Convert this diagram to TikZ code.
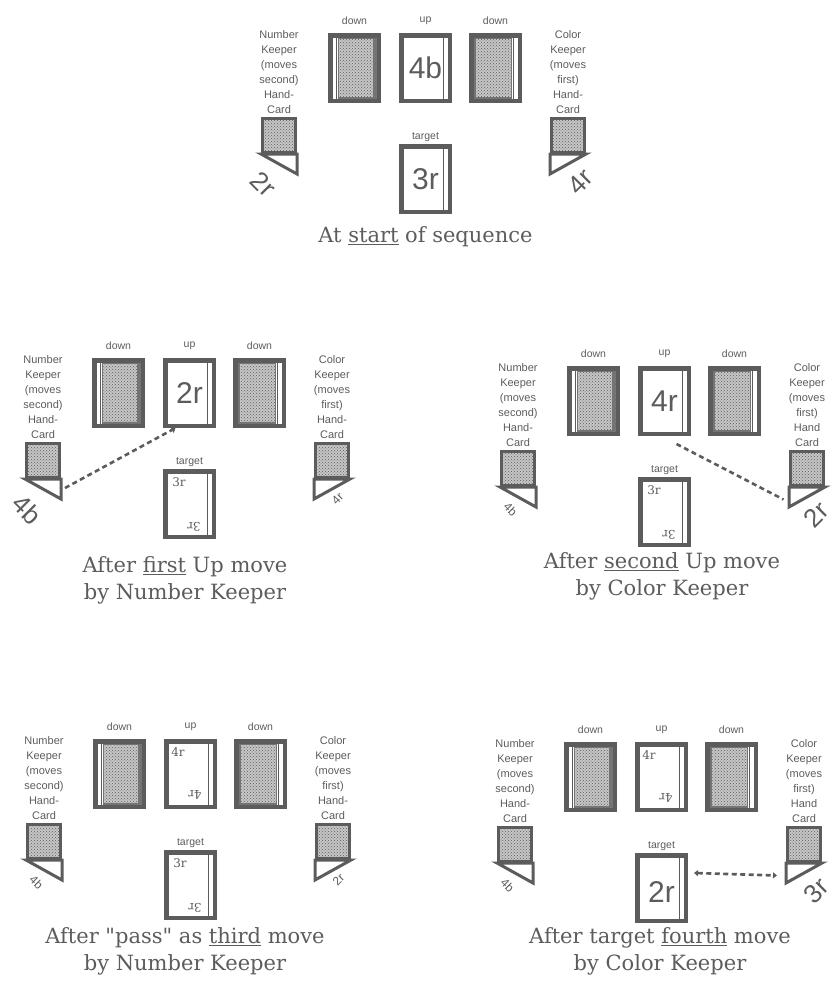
\documentclass[tikz,border=0pt]{standalone}
\usepackage{fontspec}
\setmainfont{DejaVu Serif}
\setsansfont{Liberation Sans}
\newfontfamily\plainserif{DejaVu Serif}
\usetikzlibrary{positioning,arrows.meta,calc,patterns}
\definecolor{ink}{gray}{0.36}

\begin{document}
\begin{tikzpicture}[
  x=1pt, y=-1pt,
  cardbox/.style={draw=ink, line width=4.5pt, fill=white, minimum width=48.5pt, minimum height=65.5pt, inner sep=0pt},
  stripeR/.style={path picture={
      \draw[ink, line width=1.2pt] ([xshift=-6pt]path picture bounding box.north east) -- ([xshift=-6pt]path picture bounding box.south east);}},
  downL/.style={cardbox, path picture={
      \fill[ink!85] ([xshift=8pt]path picture bounding box.north west) rectangle (path picture bounding box.south east);
      \fill[gray!45] ([xshift=9pt,yshift=-4pt]path picture bounding box.north west) rectangle ([xshift=-6pt,yshift=4pt]path picture bounding box.south east);
      \fill[pattern=crosshatch dots, pattern color=ink] ([xshift=9pt,yshift=-4pt]path picture bounding box.north west) rectangle ([xshift=-6pt,yshift=4pt]path picture bounding box.south east);
      \draw[ink, line width=1.2pt] ([xshift=6pt]path picture bounding box.north west) -- ([xshift=6pt]path picture bounding box.south west);}},
  downR/.style={cardbox, path picture={
      \fill[ink!85] (path picture bounding box.north west) rectangle ([xshift=-8pt]path picture bounding box.south east);
      \fill[gray!45] ([xshift=5pt,yshift=-4pt]path picture bounding box.north west) rectangle ([xshift=-9pt,yshift=4pt]path picture bounding box.south east);
      \fill[pattern=crosshatch dots, pattern color=ink] ([xshift=5pt,yshift=-4pt]path picture bounding box.north west) rectangle ([xshift=-9pt,yshift=4pt]path picture bounding box.south east);
      \draw[ink, line width=1.2pt] ([xshift=-6pt]path picture bounding box.north east) -- ([xshift=-6pt]path picture bounding box.south east);}},
  handbox/.style={draw=ink, line width=3pt, fill=gray!45, minimum width=33pt, minimum height=34pt, inner sep=0pt,
      postaction={pattern=crosshatch dots, pattern color=ink}},
  handtri/.style={draw=ink, line width=3pt, fill=white, line join=miter},
  lbl/.style={font=\sffamily\fontsize{10.5}{12}\selectfont, text=ink, inner sep=0pt},
  keeper/.style={font=\sffamily\fontsize{11}{15}\selectfont, text=ink, align=center, inner sep=0pt},
  bigface/.style={font=\sffamily\fontsize{30}{30}\selectfont, text=ink, inner sep=0pt},
  idx/.style={font=\fontsize{12}{12}\selectfont, text=ink, inner sep=0pt},
  handbig/.style={font=\sffamily\fontsize{26}{26}\selectfont, text=ink, inner sep=0pt},
  handsmall/.style={font=\sffamily\fontsize{12}{12}\selectfont, text=ink, inner sep=0pt},
  caption/.style={font=\fontsize{21}{27}\selectfont, text=ink, align=center, inner sep=0pt},
  movearrow/.style={draw=ink, line width=2.6pt, dash pattern=on 5pt off 3.5pt}
]
\useasboundingbox (0,0) rectangle (834,983);

% ---- One table: three cards in a row, target below, two hand cards ----
% #1 = name prefix, #2 = "Hand" line of the Color Keeper label
\def\board#1#2{%
  \node[downL, label={[lbl, label distance=8pt]above:down}] (#1D1) at (26.5,35) {};
  \node[cardbox, stripeR, label={[lbl, label distance=8pt]above:up}] (#1Up) at (97.5,35) {};
  \node[downR, label={[lbl, label distance=8pt]above:down}] (#1D2) at (167.5,35) {};
  \node[cardbox, stripeR, label={[lbl, label distance=2pt]above:target}] (#1Tg) at (97.5,146) {};
  \node[handbox] (#1NK) at (-49,102.5) {};
  \node[handbox] (#1CK) at (240,102.5) {};
  \draw[handtri] (#1NK.south west) -- (#1NK.south east) -- ([yshift=-20pt]#1NK.south east) -- cycle;
  \draw[handtri] (#1CK.south west) -- (#1CK.south east) -- ([yshift=-20pt]#1CK.south west) -- cycle;
  \node[keeper, above=3pt of #1NK] (#1NKt) {Number\\Keeper\\(moves\\second)\\Hand-\\Card};
  \node[keeper, above=3pt of #1CK] (#1CKt) {Color\\Keeper\\(moves\\first)\\#2\\Card};
}

% ---- Panel a: start ----
\begin{scope}[shift={(328,33)}]
  \board{a}{Hand-}
  \node[bigface] (aUpF) at (aUp) {4b};
  \node[bigface] (aTgF) at (aTg) {3r};
  \node[handbig, rotate=-45] (aNKv) at ($(aNK.south west)+(2.5,30.5)$) {2r};
  \node[handbig, rotate=45] (aCKv) at ($(aCK.south east)+(-5.5,27.5)$) {4r};
  \node[caption] (aCap) at (97.5,204) {At \underline{start} of sequence};
\end{scope}

% ---- Panel b: first move ----
\begin{scope}[shift={(92,358)}]
  \board{b}{Hand-}
  \node[bigface] (bUpF) at (bUp) {2r};
  \node[idx] (bTgA) at ($(bTg.north west)+(16,13)$) {3r};
  \node[idx, rotate=180] (bTgB) at ($(bTg.south east)+(-22,-12)$) {3r};
  \node[handbig, rotate=-45] (bNKv) at ($(bNK.south west)+(2.5,30.5)$) {4b};
  \node[handsmall, rotate=45] (bCKv) at ($(bCK.south east)+(-12.5,19.5)$) {4r};
  \draw[movearrow, -{Triangle[length=4pt,width=7pt]}] ($(bNK.south east)+(4,9)$) -- ([xshift=-14pt]bUp.south);
  \node[caption] (bCap) at (93,222) {After \underline{first} Up move\\by Number Keeper};
\end{scope}

% ---- Panel c: second move ----
\begin{scope}[shift={(567,366)}]
  \board{c}{Hand}
  \node[bigface] (cUpF) at (cUp) {4r};
  \node[idx] (cTgA) at ($(cTg.north west)+(16,13)$) {3r};
  \node[idx, rotate=180] (cTgB) at ($(cTg.south east)+(-22,-12)$) {3r};
  \node[handsmall, rotate=-45] (cNKv) at ($(cNK.south west)+(10.5,22.5)$) {4b};
  \node[handbig, rotate=45] (cCKv) at ($(cCK.south east)+(-8.5,27.5)$) {2r};
  \draw[movearrow] ([xshift=12pt,yshift=-8pt]cUp.south) -- ($(cCK.south west)+(-5.5,12.5)$);
  \node[caption] (cCap) at (95,210) {After \underline{second} Up move\\by Color Keeper};
\end{scope}

% ---- Panel d: pass ----
\begin{scope}[shift={(93,739)}]
  \board{d}{Hand-}
  \node[idx] (dUpA) at ($(dUp.north west)+(14,13)$) {4r};
  \node[idx, rotate=180] (dUpB) at ($(dUp.south east)+(-22,-14)$) {4r};
  \node[idx] (dTgA) at ($(dTg.north west)+(16,13)$) {3r};
  \node[idx, rotate=180] (dTgB) at ($(dTg.south east)+(-22,-12)$) {3r};
  \node[handsmall, rotate=-45] (dNKv) at ($(dNK.south west)+(10.5,22.5)$) {4b};
  \node[handsmall, rotate=45] (dCKv) at ($(dCK.south east)+(-12.5,19.5)$) {2r};
  \node[caption] (dCap) at (92,212.5) {After {\plainserif"}pass{\plainserif"} as \underline{third} move\\by Number Keeper};
\end{scope}

% ---- Panel e: target move ----
\begin{scope}[shift={(564,742)}]
  \board{e}{Hand}
  \node[idx] (eUpA) at ($(eUp.north west)+(14,13)$) {4r};
  \node[idx, rotate=180] (eUpB) at ($(eUp.south east)+(-22,-14)$) {4r};
  \node[bigface] (eTgF) at ([yshift=-4pt]eTg.center) {2r};
  \node[handsmall, rotate=-45] (eNKv) at ($(eNK.south west)+(10.5,22.5)$) {4b};
  \node[handbig, rotate=45] (eCKv) at ($(eCK.south east)+(-5.5,27.5)$) {3r};
  \draw[movearrow, {Triangle[length=4pt,width=6pt]}-{Triangle[length=4pt,width=6pt]}] ([xshift=6pt,yshift=15pt]eTg.east) -- ($(eCK.south west)+(-9,12.5)$);
  \node[caption] (eCap) at (96,209.5) {After target \underline{fourth} move\\by Color Keeper};
\end{scope}

\end{tikzpicture}
\end{document}
